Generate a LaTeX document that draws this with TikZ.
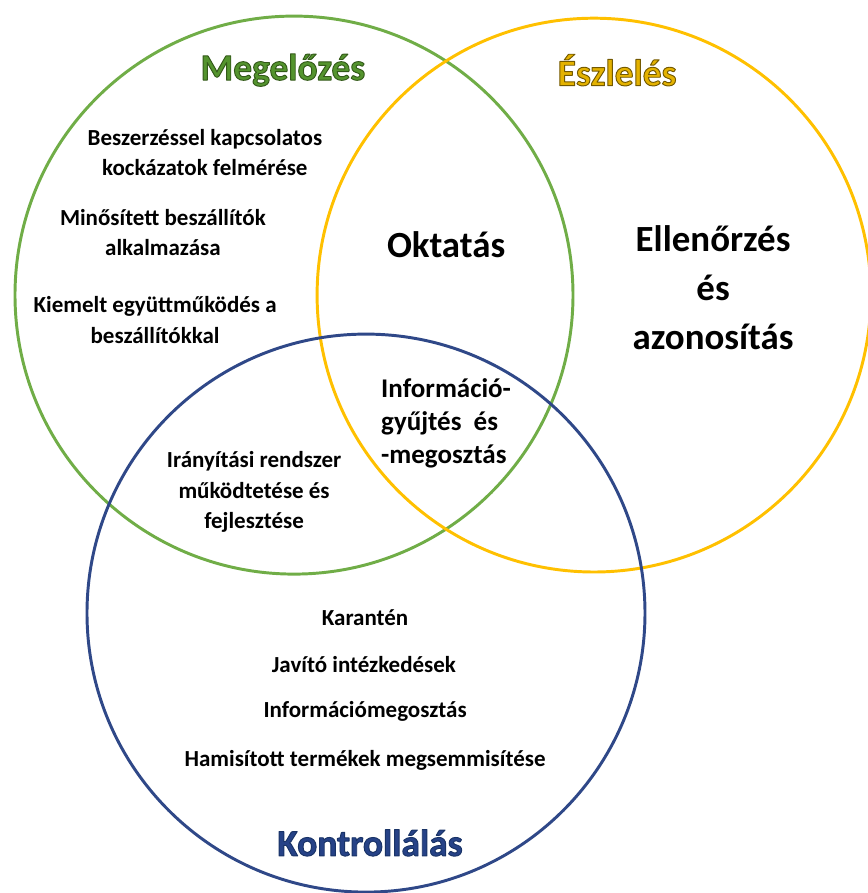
\documentclass[tikz,border=0pt]{standalone}
\usepackage{fontspec}
\setmainfont{Carlito}
\definecolor{megGreen}{RGB}{112,173,71}
\definecolor{eszYellow}{RGB}{255,192,0}
\definecolor{konBlue}{RGB}{47,72,136}
\definecolor{headGreen}{RGB}{84,148,46}
\definecolor{headYellow}{RGB}{228,178,0}
\definecolor{headBlue}{RGB}{38,66,135}
% heading text with a thin dark outline
\newcommand{\edged}[2]{\special{pdf:literal direct 2 Tr 0.9 w #1 RG}#2\special{pdf:literal direct 0 Tr}}
\begin{document}
\begin{tikzpicture}[scale=1, line join=round, line cap=round,
	ring/.style={line width=2.8pt},
	item/.style={font=\bfseries\fontsize{21.8}{28.5}\selectfont, align=center, inner sep=0pt},
	mid/.style={font=\bfseries\fontsize{25.6}{31.3}\selectfont, align=left, inner sep=0pt},
	big/.style={font=\bfseries\fontsize{35}{46.5}\selectfont, align=center, inner sep=0pt},
	head/.style={font=\bfseries\fontsize{35.5}{40}\selectfont, inner sep=0pt}]
	\useasboundingbox (0,0) rectangle (28.933,29.767);
	\coordinate (G) at (9.8,19.93);
	\coordinate (Y) at (19.8,19.93);
	\coordinate (K) at (12.2,9.33);
	\draw[ring, megGreen] (G) circle (9.3);
	\draw[ring, eszYellow] (Y) circle (9.23);
	\draw[ring, konBlue] (K) circle (9.3);
	% headings
	\node[head, text=headGreen] (meg) at (9.43,27.43) {\edged{0.2 0.35 0.1}{Megelőzés}};
	\node[head, text=headYellow] (esz) at (20.57,27.43) {\edged{0.45 0.35 0}{Észlelés}};
	\node[head, text=headBlue] (kon) at (12.33,1.67) {\edged{0.1 0.2 0.4}{Kontrollálás}};
	% green only
	\node[item] (beszerzes) at (6.83,24.67) {Beszerzéssel kapcsolatos\\kockázatok felmérése};
	\node[item] (minositett) at (5.43,22.03) {Minősített beszállítók\\alkalmazása};
	\node[item] (kiemelt) at (5.17,19.1) {Kiemelt együttműködés a\\beszállítókkal};
	% overlaps
	\node[big] (oktatas) at (14.87,21.6) {Oktatás};
	\node[big] (ellenorzes) at (23.77,20.17) {Ellenőrzés\\és\\azonosítás};
	\node[mid, anchor=west] (info) at (12.7,15.67) {Információ-\\gyűjtés~~és\\-megosztás};
	\node[item] (iranyitas) at (8.47,13.37) {Irányítási rendszer\\működtetése és\\fejlesztése};
	% blue only
	\node[item] (karanten) at (12.17,9.17) {Karantén};
	\node[item] (javito) at (12.13,7.6) {Javító intézkedések};
	\node[item] (infomeg) at (12.17,6.07) {Információmegosztás};
	\node[item] (hamis) at (12.17,4.43) {Hamisított termékek megsemmisítése};
\end{tikzpicture}
\end{document}
